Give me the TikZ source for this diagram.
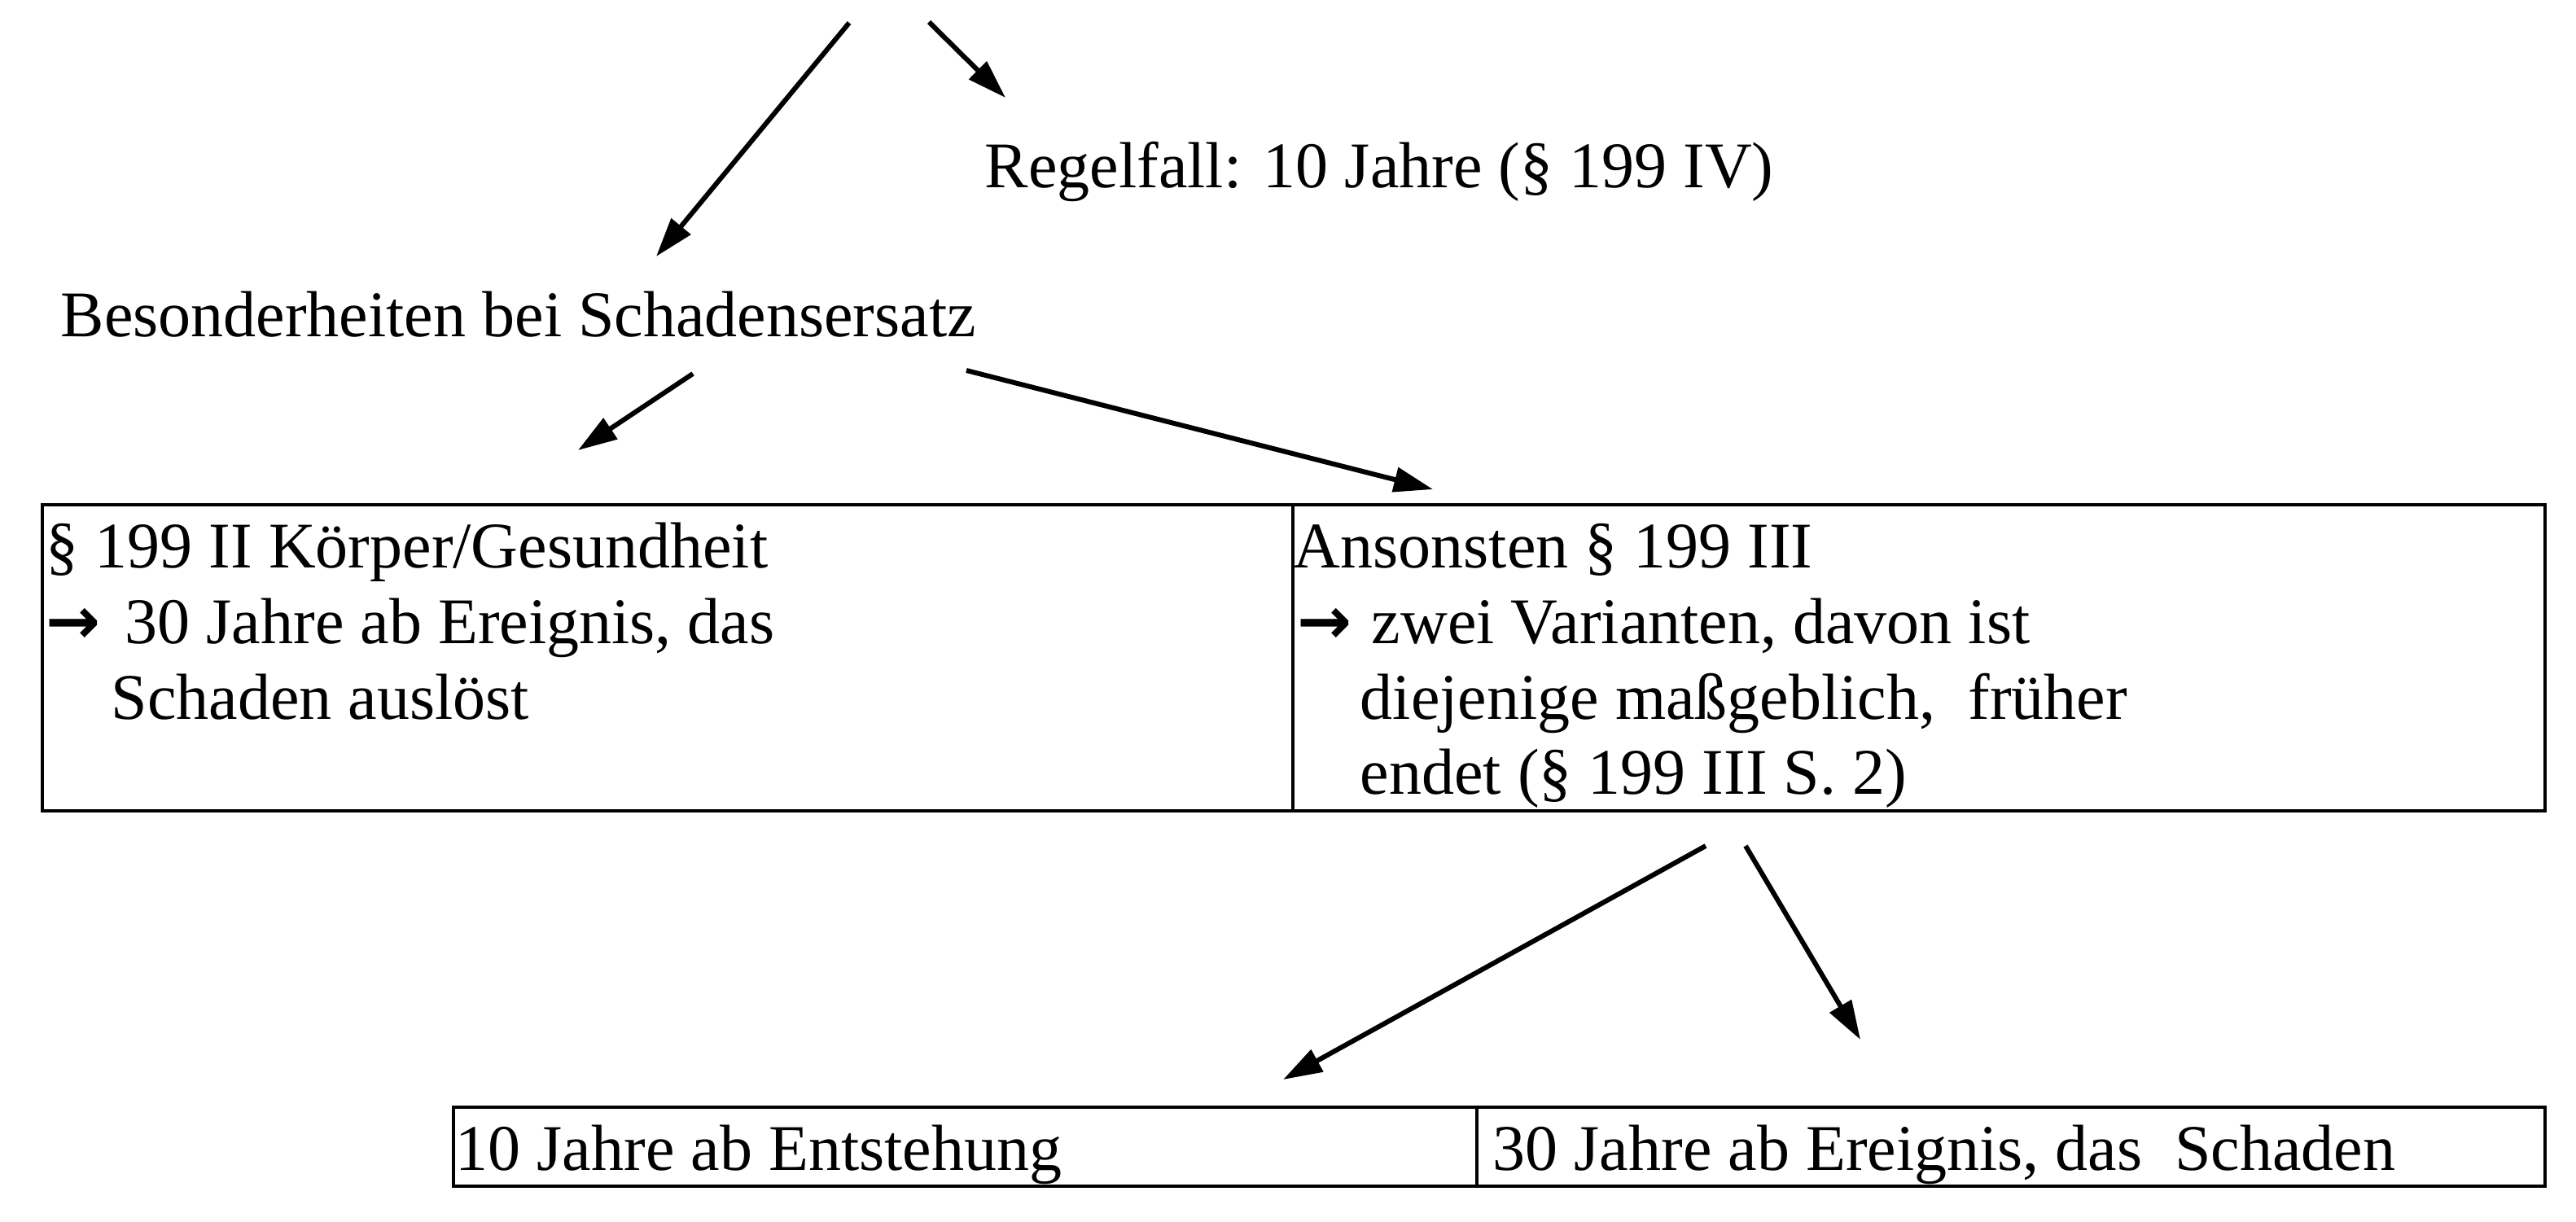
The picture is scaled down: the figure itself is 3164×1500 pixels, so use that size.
\documentclass[tikz,border=0pt]{standalone}
\usepackage{fontspec}
\setmainfont{Liberation Serif}
\newfontfamily\arrowfont{DejaVu Sans}
\usetikzlibrary{arrows.meta}
\begin{document}
\begin{tikzpicture}[x=0.25pt,y=-0.25pt,
  txt/.style={anchor=base west, inner sep=0pt, font=\fontsize{20pt}{23.25pt}\selectfont},
  cell/.style={draw, line width=0.9pt, anchor=north west, inner sep=0pt},
  arrowline/.style={line width=1.5pt, -{Triangle[length=12pt,width=7.5pt]}}]
\useasboundingbox (0,0) rectangle (3164,1500);

% upper texts
\node[txt] (regel) at (1209,230) {Regelfall: 10 Jahre (§ 199 IV)};
\node[txt] (beson) at (74,413) {Besonderheiten bei Schadensersatz};

% first row of cells
\node[cell, minimum width=384pt, minimum height=94pt] (cellA) at (50,618) {};
\node[cell, minimum width=384.5pt, minimum height=94pt] (cellB) at (1586,618) {};

\node[txt] (a1) at (56,697) {§ 199 II Körper/Gesundheit};
\node[txt] (a2) at (56,790) {\makebox[24.25pt][l]{\arrowfont\bfseries →}30 Jahre ab Ereignis, das};
\node[txt] (a3) at (136,883) {Schaden auslöst};

\node[txt] (b1) at (1588,697) {Ansonsten § 199 III};
\node[txt] (b2) at (1593,790) {\makebox[22.75pt][l]{\arrowfont\bfseries →}zwei Varianten, davon ist};
\node[txt] (b3) at (1670,883) {diejenige maßgeblich,\ \ früher};
\node[txt] (b4) at (1670,975) {endet (§ 199 III S. 2)};

% second row of cells
\node[cell, minimum width=314.25pt, minimum height=24.25pt] (cellC) at (555,1358) {};
\node[cell, minimum width=328pt, minimum height=24.25pt] (cellD) at (1812,1358) {};
\node[txt] (c1) at (559,1437) {10 Jahre ab Entstehung};
\node[txt] (d1) at (1833,1437) {30 Jahre ab Ereignis, das\ \ Schaden};

% arrow end points
\coordinate (p1s) at (1043,28);
\coordinate (p1e) at (806,315);
\coordinate (p2s) at (1141,27);
\coordinate (p2e) at (1235,120);
\coordinate (p3s) at (851,459);
\coordinate (p3e) at (710,553);
\coordinate (p4s) at (1187,455);
\coordinate (p4e) at (1760,601);
\coordinate (p5s) at (2095,1039);
\coordinate (p5e) at (1576,1326);
\coordinate (p6s) at (2144,1039);
\coordinate (p6e) at (2285,1277);

\draw[arrowline] (p1s) -- (p1e);
\draw[arrowline] (p2s) -- (p2e);
\draw[arrowline] (p3s) -- (p3e);
\draw[arrowline] (p4s) -- (p4e);
\draw[arrowline] (p5s) -- (p5e);
\draw[arrowline] (p6s) -- (p6e);
\end{tikzpicture}
\end{document}
